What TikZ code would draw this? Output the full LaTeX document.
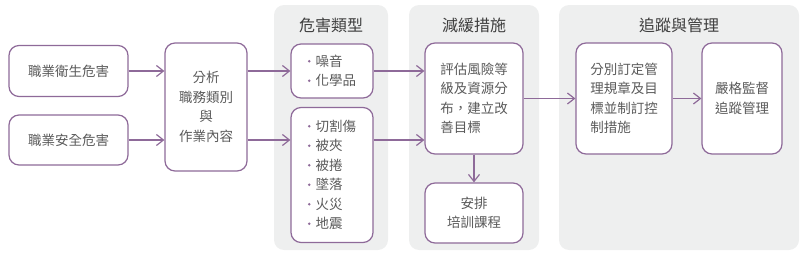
\documentclass[tikz,border=0pt]{standalone}
\usepackage{fontspec}
\setmainfont{Noto Sans CJK TC}
\usetikzlibrary{arrows.meta,positioning}
\definecolor{hpurple}{HTML}{8E6A99}
\definecolor{htext}{HTML}{5A5A5A}
\definecolor{htitle}{HTML}{3E3E3E}
\definecolor{hpanel}{HTML}{EEEFEF}
\tikzset{
  card/.style={draw=hpurple,fill=white,rounded corners=10pt,line width=1.2pt,align=center,inner sep=0pt,
    text=htext,font=\fontsize{13.5}{19.5}\selectfont},
  panel/.style={fill=hpanel,rounded corners=10pt},
  ptitle/.style={text=htitle,font=\fontsize{16}{18}\selectfont},
  arr/.style={-{Straight Barb[length=7pt,width=11pt,line width=1.2pt]},line width=1.2pt,draw=hpurple},
}
\newcommand{\hitem}{\tikz[baseline=-0.7ex]\fill[hpurple] (0,0) circle (1.4pt);\hspace{5pt}}
\begin{document}
\begin{tikzpicture}[x=1pt,y=-1pt]
  \useasboundingbox (0,0) rectangle (804,257);
  % panels
  \fill[panel] (274,5) rectangle (388,250);
  \fill[panel] (409,5) rectangle (539,250);
  \fill[panel] (559,5) rectangle (799,250);
  \node[ptitle] (t1) at (331,25) {危害類型};
  \node[ptitle] (t2) at (474,25) {減緩措施};
  \node[ptitle] (t3) at (679,25) {追蹤與管理};
  % hazards
  \node[card,minimum width=119pt,minimum height=51pt] (hyg) at (68.5,71) {職業衛生危害};
  \node[card,minimum width=119pt,minimum height=50pt] (saf) at (68.5,140) {職業安全危害};
  \node[card,minimum width=82pt,minimum height=128pt] (ana) at (206,107) {分析\\職務類別\\與\\作業內容};
  % hazard types
  \node[card,align=left,minimum width=82pt,minimum height=54pt] (noise) at (332,71) {\hitem 噪音\\\hitem 化學品};
  \node[card,align=left,minimum width=82pt,minimum height=135pt] (mech) at (332,175) {\hitem 切割傷\\\hitem 被夾\\\hitem 被捲\\\hitem 墜落\\\hitem 火災\\\hitem 地震};
  % mitigation
  \node[card,align=left,minimum width=98pt,minimum height=111pt] (eval) at (474,98.5) {評估風險等\\級及資源分\\布，建立改\\善目標};
  \node[card,minimum width=98pt,minimum height=60pt] (train) at (474,213) {安排\\培訓課程};
  % management
  \node[card,align=left,minimum width=96pt,minimum height=111pt] (rule) at (624,98.5) {分別訂定管\\理規章及目\\標並制訂控\\制措施};
  \node[card,minimum width=80pt,minimum height=111pt] (supv) at (742,98.5) {嚴格監督\\追蹤管理};
  % connectors
  \draw[arr] (hyg.east) -- (hyg.east -| ana.west);
  \draw[arr] (saf.east) -- (saf.east -| ana.west);
  \draw[arr] (hyg.east -| ana.east) -- (hyg.east -| noise.west);
  \draw[arr] (saf.east -| ana.east) -- (saf.east -| mech.west);
  \draw[arr] (hyg.east -| noise.east) -- (hyg.east -| eval.west);
  \draw[arr] (saf.east -| mech.east) -- (saf.east -| eval.west);
  \draw[arr] (eval.south) -- (train.north);
  \draw[arr] (eval.east) -- (rule.west);
  \draw[arr] (rule.east) -- (supv.west);
\end{tikzpicture}
\end{document}
